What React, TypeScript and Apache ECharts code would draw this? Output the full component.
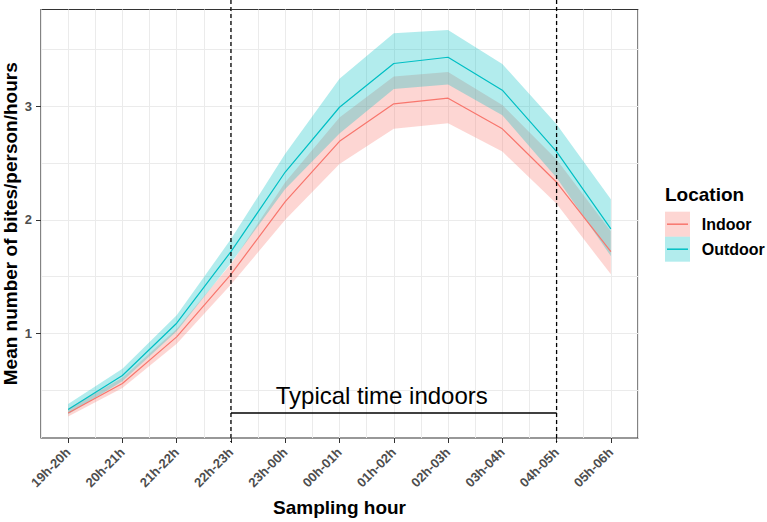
import React, { useEffect, useRef } from 'react';
import * as echarts from 'echarts';

const categories = ['19h-20h', '20h-21h', '21h-22h', '22h-23h', '23h-00h', '00h-01h', '01h-02h', '02h-03h', '03h-04h', '04h-05h', '05h-06h'];

const indoorMean = [0.30, 0.56, 0.97, 1.52, 2.16, 2.69, 3.02, 3.07, 2.80, 2.33, 1.72];
const indoorLower = [0.27, 0.52, 0.91, 1.43, 2.00, 2.49, 2.80, 2.85, 2.60, 2.14, 1.52];
const indoorUpper = [0.34, 0.61, 1.04, 1.61, 2.33, 2.90, 3.26, 3.30, 3.01, 2.53, 1.90];

const outdoorMean = [0.33, 0.63, 1.09, 1.72, 2.42, 2.99, 3.375, 3.43, 3.14, 2.60, 1.92];
const outdoorLower = [0.29, 0.58, 1.02, 1.62, 2.27, 2.76, 3.15, 3.19, 2.92, 2.37, 1.68];
const outdoorUpper = [0.38, 0.69, 1.16, 1.83, 2.58, 3.24, 3.64, 3.67, 3.37, 2.84, 2.18];

const yTicks = [1, 2, 3];
const yMin = 0.08;
const yMax = 3.85;

const annotationStart = '22h-23h';
const annotationEnd = '04h-05h';
const annotationY = 0.3;
const annotationText = 'Typical time indoors';

const legendTitle = 'Location';
const legendLabels = ['Indoor', 'Outdoor'];

const FONT = '"Liberation Sans", Arial, Helvetica, sans-serif';
const IN_COLOR = '#F8766D';
const OUT_COLOR = '#00BFC4';
const GRID_COLOR = '#EBEBEB';

function bandSeries(name: string, stack: string, lower: number[], upper: number[], color: string, extra: any = {}) {
  return [
    {
      name: name + ' lower',
      type: 'line',
      stack,
      data: lower,
      symbol: 'none',
      lineStyle: { opacity: 0, width: 0 },
      silent: true,
      ...extra,
    },
    {
      name: name + ' band',
      type: 'line',
      stack,
      data: upper.map((u, i) => +(u - lower[i]).toFixed(4)),
      symbol: 'none',
      lineStyle: { opacity: 0, width: 0 },
      areaStyle: { color, opacity: 0.3 },
      silent: true,
    },
  ];
}

export default function App() {
  const ref = useRef<HTMLDivElement>(null);

  useEffect(() => {
    const chart = echarts.init(ref.current!, null, { renderer: 'svg' });
    const option: any = {
      animation: false,
      grid: {
        left: 41,
        top: 9.5,
        right: 129,
        bottom: 84,
        show: true,
        containLabel: false,
        outerBoundsMode: 'none',
        borderColor: '#333333',
        borderWidth: 1.2,
        backgroundColor: '#ffffff',
      },
      xAxis: {
        type: 'category',
        data: categories,
        boundaryGap: true,
        name: 'Sampling hour',
        nameLocation: 'middle',
        nameGap: 60,
        nameMoveOverlap: false,
        nameTextStyle: { fontFamily: FONT, fontSize: 19, fontWeight: 'bold', color: '#000' },
        axisLine: { show: false },
        axisTick: { show: true, alignWithLabel: true, length: 5, lineStyle: { color: '#333333', width: 1 } },
        axisLabel: {
          rotate: 45,
          margin: 12,
          interval: 0,
          fontFamily: FONT,
          fontSize: 13,
          fontWeight: 'bold',
          color: '#4D4D4D',
        },
        splitLine: { show: true, interval: 0, lineStyle: { color: GRID_COLOR, width: 1 } },
      },
      yAxis: {
        type: 'value',
        min: yMin,
        max: yMax,
        minInterval: 1,
        maxInterval: 1,
        name: 'Mean number of bites/person/hours',
        nameLocation: 'middle',
        nameGap: 21,
        nameRotate: 90,
        nameMoveOverlap: false,
        nameTextStyle: { fontFamily: FONT, fontSize: 19, fontWeight: 'bold', color: '#000' },
        axisLine: { show: false },
        axisTick: { show: true, length: 5, customValues: yTicks, lineStyle: { color: '#333333', width: 1 } },
        axisLabel: {
          customValues: yTicks,
          margin: 9,
          fontFamily: FONT,
          fontSize: 13,
          fontWeight: 'bold',
          color: '#4D4D4D',
        },
        splitLine: { show: true, lineStyle: { color: GRID_COLOR, width: 1 } },
        minorTick: { show: false, splitNumber: 2 },
        minorSplitLine: { show: true, lineStyle: { color: GRID_COLOR, width: 1 } },
      },
      series: [
        ...bandSeries('Indoor', 'in', indoorLower, indoorUpper, IN_COLOR, {
          markLine: {
            silent: true,
            z: 1,
            symbol: ['none', 'none'],
            label: { show: false },
            lineStyle: { color: GRID_COLOR, type: 'solid', width: 1 },
            emphasis: { disabled: true },
            data: categories.map((c) => ({ xAxis: c })),
          },
        }),
        ...bandSeries('Outdoor', 'out', outdoorLower, outdoorUpper, OUT_COLOR),
        {
          name: 'Indoor',
          type: 'line',
          data: indoorMean,
          symbol: 'none',
          lineStyle: { color: IN_COLOR, width: 1.2 },
          itemStyle: { color: IN_COLOR },
        },
        {
          name: 'Outdoor',
          type: 'line',
          data: outdoorMean,
          symbol: 'none',
          lineStyle: { color: OUT_COLOR, width: 1.2 },
          itemStyle: { color: OUT_COLOR },
        },
      ],
    };
    chart.setOption(option);

    const xs = chart.convertToPixel({ xAxisIndex: 0 }, annotationStart) as number;
    const xe = chart.convertToPixel({ xAxisIndex: 0 }, annotationEnd) as number;
    const yLine = chart.convertToPixel({ yAxisIndex: 0 }, annotationY) as number;
    const yBottom = chart.convertToPixel({ yAxisIndex: 0 }, yMin) as number;

    const legendX = 665;
    const keyTop = 211.7;
    const keySize = 25;
    const legendColors = [IN_COLOR, OUT_COLOR];

    const graphics: any[] = [
      {
        type: 'line',
        shape: { x1: xs, y1: 0, x2: xs, y2: yBottom + 4 },
        style: { stroke: '#000', lineWidth: 1.3, lineDash: [4, 3] },
        z: 50,
      },
      {
        type: 'line',
        shape: { x1: xe, y1: 0, x2: xe, y2: yBottom + 4 },
        style: { stroke: '#000', lineWidth: 1.3, lineDash: [4, 3] },
        z: 50,
      },
      {
        type: 'line',
        shape: { x1: xs, y1: yLine, x2: xe, y2: yLine },
        style: { stroke: '#000', lineWidth: 1.5 },
        z: 50,
      },
      {
        type: 'text',
        x: (xs + xe) / 2 - 12,
        y: yLine - 17,
        style: {
          text: annotationText,
          fontFamily: FONT,
          fontSize: 24,
          fill: '#000',
          textAlign: 'center',
          textVerticalAlign: 'middle',
        },
        z: 50,
      },
      {
        type: 'text',
        x: legendX,
        y: 194,
        style: {
          text: legendTitle,
          fontFamily: FONT,
          fontSize: 19,
          fontWeight: 'bold',
          fill: '#000',
          textAlign: 'left',
          textVerticalAlign: 'middle',
        },
      },
    ];
    legendLabels.forEach((label, i) => {
      const top = keyTop + i * keySize;
      graphics.push(
        {
          type: 'rect',
          shape: { x: legendX, y: top, width: keySize, height: keySize },
          style: { fill: legendColors[i], opacity: 0.3 },
        },
        {
          type: 'line',
          shape: { x1: legendX + 2, y1: top + keySize / 2, x2: legendX + keySize - 2, y2: top + keySize / 2 },
          style: { stroke: legendColors[i], lineWidth: 1.5 },
        },
        {
          type: 'text',
          x: 701.7,
          y: top + keySize / 2,
          style: {
            text: label,
            fontFamily: FONT,
            fontSize: 16,
            fontWeight: 'bold',
            fill: '#000',
            textAlign: 'left',
            textVerticalAlign: 'middle',
          },
        }
      );
    });
    chart.setOption({ graphic: graphics });

    return () => {
      chart.dispose();
    };
  }, []);

  return (
    <div
      ref={ref}
      style={{ position: 'fixed', left: 0, top: 0, width: 767, height: 522, background: '#ffffff' }}
    />
  );
}
